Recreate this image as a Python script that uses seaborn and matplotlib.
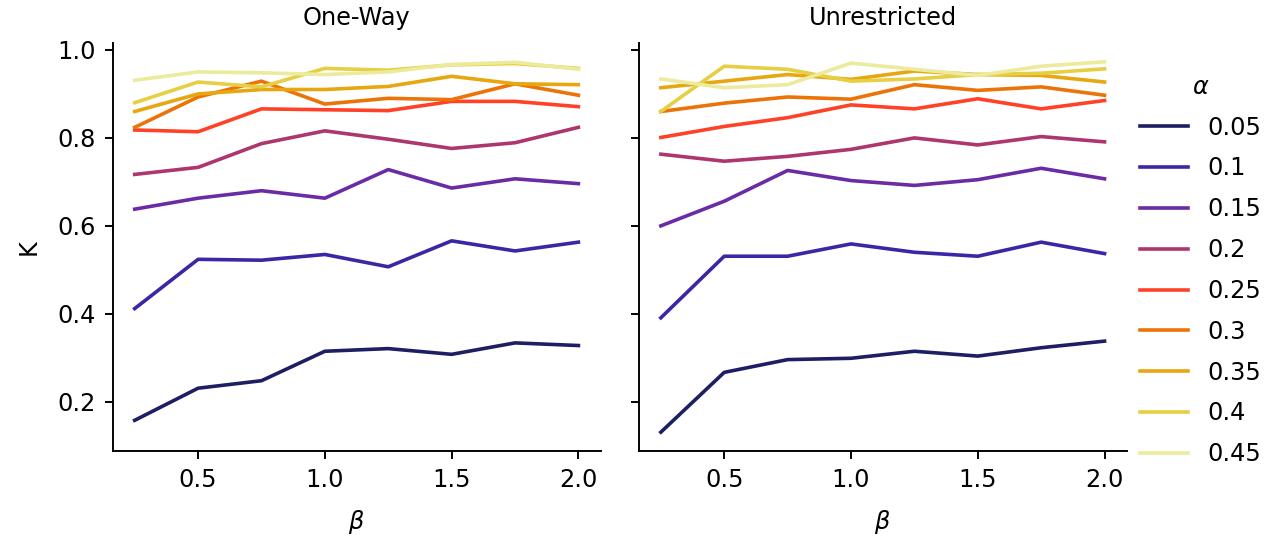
import pandas as pd
import seaborn as sns
from matplotlib import pyplot as plt

DPI = 173

beta = [0.25, 0.5, 0.75, 1.0, 1.25, 1.5, 1.75, 2.0]
alpha_levels = ["0.05", "0.1", "0.15", "0.2", "0.25", "0.3", "0.35", "0.4", "0.45"]
modes = ["One-Way", "Unrestricted"]

# One-Way, K per beta for each alpha
ow_005 = [0.158, 0.231, 0.248, 0.315, 0.321, 0.308, 0.334, 0.328]
ow_010 = [0.412, 0.524, 0.522, 0.535, 0.507, 0.566, 0.543, 0.563]
ow_015 = [0.638, 0.663, 0.680, 0.663, 0.728, 0.686, 0.707, 0.696]
ow_020 = [0.717, 0.733, 0.787, 0.816, 0.797, 0.776, 0.789, 0.824]
ow_025 = [0.818, 0.814, 0.866, 0.864, 0.862, 0.883, 0.883, 0.871]
ow_030 = [0.824, 0.893, 0.929, 0.877, 0.890, 0.887, 0.923, 0.897]
ow_035 = [0.860, 0.900, 0.910, 0.910, 0.917, 0.940, 0.923, 0.921]
ow_040 = [0.880, 0.927, 0.916, 0.958, 0.954, 0.966, 0.969, 0.958]
ow_045 = [0.931, 0.950, 0.948, 0.944, 0.950, 0.967, 0.972, 0.956]

# Unrestricted
ur_005 = [0.131, 0.267, 0.296, 0.299, 0.315, 0.304, 0.323, 0.338]
ur_010 = [0.391, 0.531, 0.531, 0.559, 0.540, 0.531, 0.563, 0.537]
ur_015 = [0.600, 0.656, 0.726, 0.703, 0.692, 0.705, 0.731, 0.707]
ur_020 = [0.763, 0.747, 0.758, 0.774, 0.800, 0.784, 0.803, 0.791]
ur_025 = [0.801, 0.826, 0.846, 0.875, 0.866, 0.889, 0.866, 0.885]
ur_030 = [0.860, 0.879, 0.893, 0.888, 0.921, 0.908, 0.916, 0.897]
ur_035 = [0.914, 0.929, 0.944, 0.933, 0.952, 0.944, 0.942, 0.927]
ur_040 = [0.860, 0.963, 0.956, 0.929, 0.934, 0.944, 0.947, 0.957]
ur_045 = [0.934, 0.914, 0.921, 0.970, 0.956, 0.942, 0.963, 0.973]

one_way = [ow_005, ow_010, ow_015, ow_020, ow_025, ow_030, ow_035, ow_040, ow_045]
unrestricted = [ur_005, ur_010, ur_015, ur_020, ur_025, ur_030, ur_035, ur_040, ur_045]

rows = []
for mode, series in zip(modes, [one_way, unrestricted]):
    for a, ks in zip(alpha_levels, series):
        for b, k in zip(beta, ks):
            rows.append({"mode": mode, "alpha": a, "beta": b, "K": k})
df = pd.DataFrame(rows)

plt.rcParams["axes.labelpad"] = 7
plt.rcParams["axes.titlepad"] = 7.5

g = sns.relplot(
    data=df, x="beta", y="K", hue="alpha", col="mode", kind="line",
    hue_order=alpha_levels, col_order=modes,
    palette=sns.color_palette("CMRmap", len(alpha_levels)),
    errorbar=None, height=3, aspect=1.1,
)
g.set_titles("{col_name}")
g.set_axis_labels(r"$\beta$", "K")
g.legend.set_title(r"$\alpha$")

fig = g.figure
fig.set_size_inches(1283 / DPI, 541 / DPI)
fig.subplots_adjust(left=0.0877, right=0.8782, bottom=0.1669, top=0.920, wspace=0.078)
sns.move_legend(g, "center right", bbox_to_anchor=(1.0, 0.5), frameon=False,
                labelspacing=0.7)

fig.savefig("out.png", dpi=DPI)
